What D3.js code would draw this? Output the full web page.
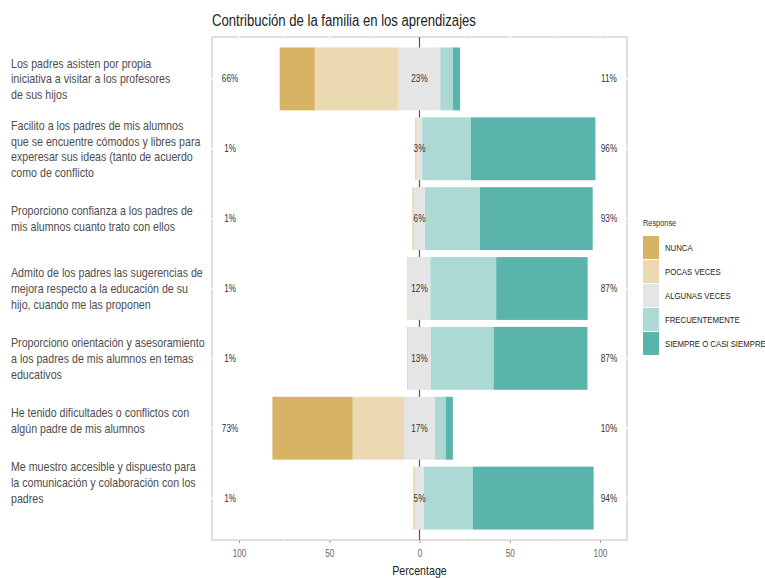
<!DOCTYPE html>
<html>
<head>
<meta charset="utf-8">
<script src="https://cdn.jsdelivr.net/npm/d3@7"></script>
<style>
  body { margin: 0; background: #fff; }
  svg { display: block; font-family: "Liberation Sans", Arial, sans-serif; }
  .item-label { font-size: 13px; fill: #4d4d4d; }
  .pct { font-size: 10px; fill: #333; }
  .tick-label { font-size: 10px; fill: #666; }
  .legend-text { font-size: 9.5px; fill: #222; }
</style>
</head>
<body>
<div id="chart"></div>
<script>
// =====================
// Data
// =====================
const items = [
  ["Los padres asisten por propia", "iniciativa a visitar a los profesores", "de sus hijos"],
  ["Facilito a los padres de mis alumnos", "que se encuentre cómodos y libres para", "experesar sus ideas (tanto de acuerdo", "como de conflicto"],
  ["Proporciono confianza a los padres de", "mis alumnos cuanto trato con ellos"],
  ["Admito de los padres las sugerencias de", "mejora respecto a la educación de su", "hijo, cuando me las proponen"],
  ["Proporciono orientación y asesoramiento", "a los padres de mis alumnos en temas", "educativos"],
  ["He tenido dificultades o conflictos con", "algún padre de mis alumnos", ""],
  ["Me muestro accesible y dispuesto para", "la comunicación y colaboración con los", "padres", "", ""]
];

const levels = ["NUNCA", "POCAS VECES", "ALGUNAS VECES", "FRECUENTEMENTE", "SIEMPRE O CASI SIEMPRE"];
const colors = ["#D8B365", "#EBD9B1", "#E5E5E5", "#ADD9D5", "#5AB4AC"];

// percentage of answers per level, one array per item
const nunca      = [19.5, 0,  0,    0,    0,    44.5, 0];
const pocasVeces = [46.5, 1,  1,    0.8,  0.6,  28.5, 1];
const algunas    = [23,   3,  6,    12,   12.6, 17,   5];
const frecuente  = [7,    27, 30.5, 36.5, 34.8, 6,    27];
const siempre    = [4,    69, 62.5, 50.7, 52,   4,    67];

const xTicks = [-100, -50, 0, 50, 100];

// =====================
// Layout
// =====================
const width = 765, height = 578;
const panel = { left: 212, right: 627, top: 37, bottom: 540 };
const squeeze = 0.82; // the reference type is horizontally condensed

const svg = d3.select("#chart").append("svg")
  .attr("width", width)
  .attr("height", height);

// text placed at (px, py) and squeezed horizontally
function txt(parent, px, py) {
  return parent.append("g")
    .attr("transform", `translate(${px},${py}) scale(${squeeze},1)`)
    .append("text");
}

const x = d3.scaleLinear().domain([-115, 115]).range([panel.left, panel.right]);
const y = d3.scalePoint().domain(d3.range(items.length)).range([panel.top, panel.bottom]).padding(0.6);
const barH = y.step() * 0.9;

const series = [nunca, pocasVeces, algunas, frecuente, siempre];

// build segments: neutral centred on zero
const rows = items.map((label, i) => {
  const v = series.map(s => s[i]);
  const segs = [];
  let start = -v[2] / 2 - v[1] - v[0];
  v.forEach((val, k) => {
    segs.push({ level: k, x0: start, x1: start + val, i });
    start += val;
  });
  return {
    i, label, segs,
    low: Math.round(v[0] + v[1]),
    mid: Math.round(v[2]),
    high: Math.round(v[3] + v[4])
  };
});

// panel background + border
svg.append("rect")
  .attr("x", panel.left).attr("y", panel.top)
  .attr("width", panel.right - panel.left).attr("height", panel.bottom - panel.top)
  .attr("fill", "#fff").attr("stroke", "#cfcfcf").attr("stroke-width", 1.3);

// white grid lines (only visible over the border)
const gridX = d3.range(-100, 101, 25);
svg.append("g").selectAll("line").data(gridX).enter().append("line")
  .attr("x1", d => x(d)).attr("x2", d => x(d))
  .attr("y1", panel.top - 1).attr("y2", panel.bottom + 1)
  .attr("stroke", "#fff").attr("stroke-width", d => d % 50 === 0 ? 1.2 : 0.6);
svg.append("g").selectAll("line").data(rows).enter().append("line")
  .attr("x1", panel.left - 1).attr("x2", panel.right + 1)
  .attr("y1", d => y(d.i)).attr("y2", d => y(d.i))
  .attr("stroke", "#fff").attr("stroke-width", 1.2);

// zero line
svg.append("line")
  .attr("x1", x(0)).attr("x2", x(0))
  .attr("y1", panel.top).attr("y2", panel.bottom)
  .attr("stroke", "#555").attr("stroke-width", 1.2);

// bars
const rowG = svg.append("g").selectAll("g").data(rows).enter().append("g");
rowG.selectAll("rect").data(d => d.segs.filter(s => s.x1 > s.x0)).enter()
  .append("rect")
  .attr("x", s => x(s.x0))
  .attr("width", s => x(s.x1) - x(s.x0))
  .attr("y", s => y(s.i) - barH / 2)
  .attr("height", barH)
  .attr("fill", s => colors[s.level]);

// percentage labels
rowG.each(function (d) {
  const g = d3.select(this);
  [[-105, d.low], [0, d.mid], [105, d.high]].forEach(([pos, val]) => {
    txt(g, x(pos), y(d.i)).attr("class", "pct")
      .attr("dy", "0.35em").attr("text-anchor", "middle")
      .text(val + "%");
  });

  // item label (left), block centred on the row
  const lineH = 15.6;
  const t = txt(g, 11, y(d.i) - (d.label.length - 1) * lineH / 2)
    .attr("class", "item-label").attr("dy", "0.35em");
  t.selectAll("tspan").data(d.label).enter().append("tspan")
    .attr("x", 0)
    .attr("dy", (s, k) => k === 0 ? "0.35em" : lineH)
    .text(s => s);
});

// x axis
const axis = svg.append("g")
  .attr("transform", `translate(0,${panel.bottom})`)
  .call(d3.axisBottom(x).tickValues(xTicks).tickFormat(d => Math.abs(d)).tickSize(3).tickPadding(7));
axis.select(".domain").remove();
axis.attr("font-family", null).attr("font-size", null);
axis.selectAll(".tick line").attr("stroke", "#999");
axis.selectAll(".tick text").attr("class", "tick-label").attr("fill", null)
  .attr("transform", `scale(${squeeze},1)`);

txt(svg, x(0), 575)
  .attr("text-anchor", "middle")
  .attr("font-size", 13).attr("fill", "#222")
  .text("Percentage");

// title
txt(svg, panel.left, 26)
  .attr("font-size", 16).attr("fill", "#222")
  .text("Contribución de la familia en los aprendizajes");

// legend
const legend = svg.append("g").attr("transform", "translate(643,0)");
txt(legend, 0, 226)
  .attr("font-size", 9).attr("fill", "#333").text("Response");
const keyH = 24;
const keys = legend.selectAll("g.key").data(levels).enter().append("g")
  .attr("class", "key")
  .attr("transform", (d, k) => `translate(0,${236 + k * keyH})`);
keys.append("rect").attr("width", 16).attr("height", keyH - 1)
  .attr("fill", (d, k) => colors[k]);
keys.each(function (d) {
  txt(d3.select(this), 22, keyH / 2).attr("class", "legend-text")
    .attr("dy", "0.35em").text(d);
});
</script>
</body>
</html>
